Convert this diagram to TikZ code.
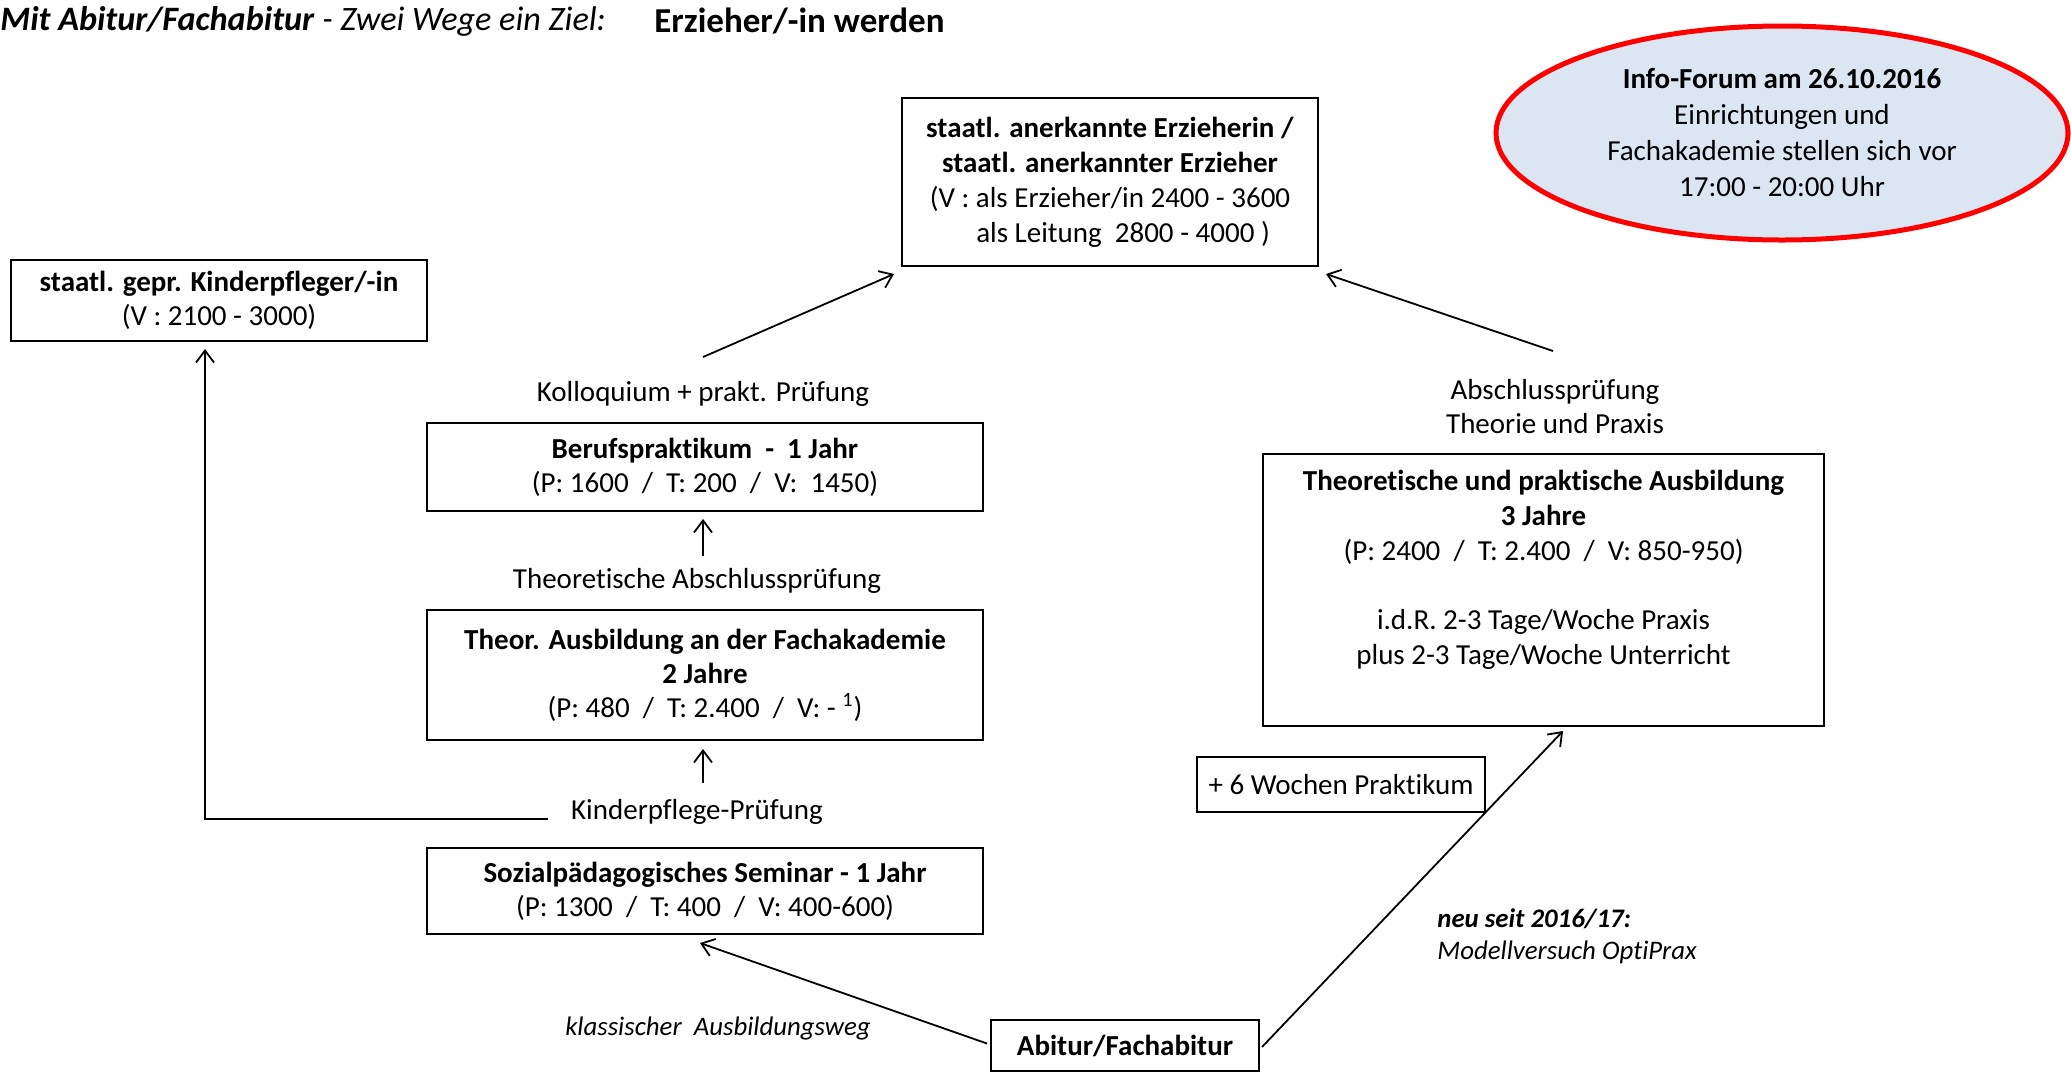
\documentclass[tikz,border=0pt]{standalone}
\usepackage{fontspec}
\setmainfont[Ligatures=NoCommon]{Carlito}
\usetikzlibrary{arrows.meta,shapes.geometric,calc}
\definecolor{ellfill}{HTML}{DCE6F2}
\begin{document}
\begin{tikzpicture}[x=0.5pt,y=-0.5pt,
  box/.style={draw, line width=1pt, align=center, inner sep=0pt, font=\fontsize{14.5}{17}\selectfont},
  lbl/.style={align=center, inner sep=0pt, font=\fontsize{14.5}{17}\selectfont},
  ilbl/.style={align=center, inner sep=0pt, font=\fontsize{13.4}{15.5}\selectfont\itshape},
  arr/.style={line width=0.9pt, -{Straight Barb[length=6pt,width=9pt]}},
  ]
\useasboundingbox (0,0) rectangle (2071,1072);

% title
\node[anchor=west, inner sep=0pt, font=\fontsize{17.1}{19}\selectfont] (t1) at (0,21) {\textbf{\textit{Mit Abitur/Fachabitur}}\textit{ - Zwei Wege ein Ziel:}};
\node[anchor=west, inner sep=0pt, font=\fontsize{17.5}{20}\selectfont\bfseries] (t2) at (654,21) {Erzieher/-in werden};

% info ellipse
\node[ellipse, draw=red, line width=2.5pt, fill=ellfill, minimum width=286pt, minimum height=107pt,
      inner sep=0pt, align=center, font=\fontsize{14.5}{18}\selectfont] (info) at (1782,133)
  {\textbf{Info-Forum am 26.10.2016}\\Einrichtungen und\\Fachakademie stellen sich vor\\17:00 - 20:00 Uhr};

% boxes
\node[box, minimum width=208pt, minimum height=84pt, font=\fontsize{14.5}{17.5}\selectfont] (top) at (1110,182)
  {\textbf{staatl. anerkannte Erzieherin /}\\ \textbf{staatl. anerkannter Erzieher}\\ (V : als Erzieher/in 2400 - 3600\\ \hspace*{0.9em}als Leitung\ \ 2800 - 4000 )};
\node[box, minimum width=208pt, minimum height=40.5pt] (kinder) at (219,300.5)
  {\textbf{staatl. gepr. Kinderpfleger/-in}\\(V : 2100 - 3000)};
\node[box, minimum width=278pt, minimum height=44pt] (beruf) at (705,467)
  {\textbf{Berufspraktikum\ \ -\ \ 1 Jahr}\\(P: 1600\ \ /\ \ T: 200\ \ /\ \ V:\ \ 1450)};
\node[box, minimum width=278pt, minimum height=65pt] (theor) at (705,675)
  {\textbf{Theor. Ausbildung an der Fachakademie}\\\textbf{2 Jahre}\\(P: 480\ \ /\ \ T: 2.400\ \ /\ \ V: - \textsuperscript{1})};
\node[box, minimum width=278pt, minimum height=43pt] (sozial) at (705,891)
  {\textbf{Sozialpädagogisches Seminar - 1 Jahr}\\(P: 1300\ \ /\ \ T: 400\ \ /\ \ V: 400-600)};
\node[box, minimum width=280.5pt, minimum height=136pt, font=\fontsize{14.5}{17.5}\selectfont] (theo) at (1543.5,590)
  {\textbf{Theoretische und praktische Ausbildung}\\\textbf{3 Jahre}\\(P: 2400\ \ /\ \ T: 2.400\ \ /\ \ V: 850-950)\\[17pt]i.d.R. 2-3 Tage/Woche Praxis\\plus 2-3 Tage/Woche Unterricht\\[5pt]\mbox{}};
\node[box, minimum width=144pt, minimum height=27.5pt] (plus) at (1341,784.5) {+ 6 Wochen Praktikum};
\node[box, minimum width=134pt, minimum height=25.5pt] (abi) at (1125,1045.5) {\textbf{Abitur/Fachabitur}};

% labels
\node[lbl] (kollo) at (703,394) {Kolloquium + prakt. Prüfung};
\node[lbl] (tap) at (697,581) {Theoretische Abschlussprüfung};
\node[lbl] (kpp) at (697,812) {Kinderpflege-Prüfung};
\node[lbl] (absch) at (1555,407) {Abschlussprüfung\\Theorie und Praxis};
\node[ilbl] (klass) at (718,1028) {klassischer\ \ Ausbildungsweg};
\node[ilbl, anchor=west, align=left, font=\fontsize{13.4}{16}\selectfont\itshape] (neu) at (1437,936)
  {\textbf{neu seit 2016/17:}\\Modellversuch OptiPrax};

% connectors
\coordinate (kolloA) at (703,357);
\coordinate (abschA) at (1553,351);
\coordinate (kpL) at (548,819);
\draw[arr] (kolloA) -- ($(top.south west)+(-7,7)$);
\draw[arr] (abschA) -- ($(top.south east)+(7,7)$);
\draw[arr] ($(beruf.south)+(-2,44)$) -- ($(beruf.south)+(-2,7)$);
\draw[arr] ($(theor.south)+(-2,42)$) -- ($(theor.south)+(-2,8)$);
\draw[arr] (kpL) -| ($(kinder.south)+(-14,7)$);
\draw[arr] ($(abi.west)+(-3,-2)$) -- ($(sozial.south)+(-5,8)$);
\draw[arr] ($(abi.east)+(2,1.5)$) -- ($(theo.south)+(19.5,4)$);
\end{tikzpicture}
\end{document}
